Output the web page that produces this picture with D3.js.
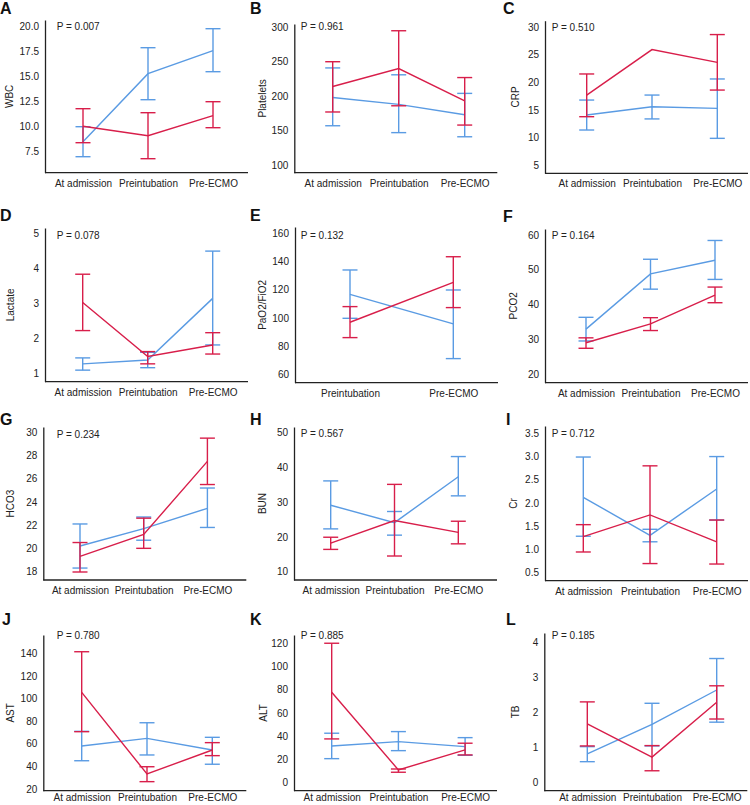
<!DOCTYPE html>
<html><head><meta charset="utf-8">
<script src="https://cdn.jsdelivr.net/npm/d3@7"></script>
<style>body{margin:0;background:#fff} svg{display:block} text{font-family:"Liberation Sans",Arial,sans-serif}</style>
</head><body><svg id="c" width="750" height="805"></svg>
<script>
// ---- data ----
const categories = ["At admission", "Preintubation", "Pre-ECMO"];
const categoriesPF = ["Preintubation", "Pre-ECMO"];
const letters = ["A","B","C","D","E","F","G","H","I","J","K","L"];
const variables = ["WBC","Platelets","CRP","Lactate","PaO2/FiO2","PCO2","HCO3","BUN","Cr","AST","ALT","TB"];
const pValues = ["0.007","0.961","0.510","0.078","0.132","0.164","0.234","0.567","0.712","0.780","0.885","0.185"];

// each point: [mean, lower, upper]
const blueWBC = [[8.5,7.0,10.0],[15.3,12.7,17.9],[17.6,15.5,19.8]];
const redWBC  = [[10.05,8.4,11.8],[9.1,6.8,11.4],[11.1,9.9,12.5]];
const bluePLT = [[198,157,241],[188,147,231],[173,141,204]];
const redPLT  = [[214,177,250],[240,186,295],[193,158,227]];
const blueCRP = [[14.1,11.4,16.8],[15.6,13.4,17.7],[15.3,9.9,20.6]];
const redCRP  = [[17.7,13.8,21.5],[25.9,null,null],[23.6,18.6,28.6]];
const blueLAC = [[1.27,1.09,1.44],[1.38,1.16,1.6],[3.14,1.81,4.49]];
const redLAC  = [[3.02,2.22,3.83],[1.48,1.27,1.62],[1.81,1.55,2.16]];
const bluePF  = [[116.7,99.7,134],[95.7,71.1,119.8]];
const redPF   = [[96.9,86,108],[125.2,107.3,143.4]];
const bluePCO2 = [[32.9,29.5,36.3],[48.8,44.4,53],[52.7,47.2,58.4]];
const redPCO2  = [[29,27.4,30.4],[34.4,32.5,36.2],[42.7,40.5,45]];
const blueHCO3 = [[20.2,18.3,22.1],[21.7,20.7,22.7],[23.45,21.8,25.2]];
const redHCO3  = [[19.3,17.96,20.5],[21.2,20.0,22.6],[27.5,25.5,29.5]];
const blueBUN = [[29.1,22.3,36.1],[24.1,20.5,27.3],[37.3,31.8,43.1]];
const redBUN  = [[18.2,16.4,19.9],[24.7,14.5,35.1],[21.3,18,24.5]];
const blueCr  = [[2.12,1.28,2.99],[1.3,1.16,1.43],[2.3,1.63,3.0]];
const redCr   = [[1.27,0.94,1.53],[1.74,0.69,2.8],[1.16,0.68,1.63]];
const blueAST = [[58,45,71],[64.8,50.1,78.6],[54.5,41.9,65.7]];
const redAST  = [[105.5,70.7,141.4],[33.3,26.5,39.7],[54.5,49.5,61]];
const blueALT = [[31.5,20.6,42.5],[35.3,27.5,43.9],[31,23.5,38.7]];
const redALT  = [[77.8,37.6,120],[10.9,8.9,11.7],[28.1,23.8,33.9]];
const blueTB  = [[0.82,0.6,1.03],[1.67,1.05,2.27],[2.65,1.73,3.55]];
const redTB   = [[1.68,1.05,2.31],[0.73,0.34,1.06],[2.3,1.82,2.77]];

const ticksWBC = [7.5,10,12.5,15,17.5,20];
const ticksPLT = [100,150,200,250,300];
const ticksCRP = [5,10,15,20,25,30];
const ticksLAC = [1,2,3,4,5];
const ticksPF  = [60,80,100,120,140,160];
const ticksPCO2 = [20,30,40,50,60];
const ticksHCO3 = [18,20,22,24,26,28,30];
const ticksBUN = [10,20,30,40,50];
const ticksCr  = [0.5,1,1.5,2,2.5,3,3.5];
const ticksAST = [20,40,60,80,100,120,140];
const ticksALT = [0,20,40,60,80,100,120];
const ticksTB  = [0,1,2,3,4];

const panelCats = [categories,categories,categories,categories,categoriesPF,categories,categories,categories,categories,categories,categories,categories];
const blueSeries = [blueWBC,bluePLT,blueCRP,blueLAC,bluePF,bluePCO2,blueHCO3,blueBUN,blueCr,blueAST,blueALT,blueTB];
const redSeries  = [redWBC,redPLT,redCRP,redLAC,redPF,redPCO2,redHCO3,redBUN,redCr,redAST,redALT,redTB];
const panelTicks = [ticksWBC,ticksPLT,ticksCRP,ticksLAC,ticksPF,ticksPCO2,ticksHCO3,ticksBUN,ticksCr,ticksAST,ticksALT,ticksTB];
const tickFormats = [".1f","d","d","d","d","d","d","d",".1f","d","d","d"];

// ---- layout (pixel positions) ----
const layout = [
 {lx:0,   ly:14,   ax:45,    base:172.7, top:20,  dom:[5.4,20.67],   x0:83,    step:65,   tx:9.5,   px:56.7,  py:26.7, xp:7},
 {lx:250, ly:14,   ax:294.3, base:172.7, top:24,  dom:[88.8,304.8],  x0:332.7, step:66,   tx:262.7, px:300.7, py:26.7, xp:7},
 {lx:503, ly:14,   ax:545,   base:173.3, top:20.7,dom:[3.6,31.1],    x0:586.7, step:65.3, tx:515,   px:551.7, py:27,   xp:7},
 {lx:0,   ly:221,  ax:45,    base:381.7, top:228, dom:[0.76,5.15],   x0:82.7,  step:65,   tx:10,    px:56.7,  py:235,  xp:7},
 {lx:250, ly:221,  ax:295,   base:382.7, top:227, dom:[54,164.5],    x0:350,   step:103.3,tx:262.7, px:300.7, py:235,  xp:7},
 {lx:503, ly:222,  ax:545,   base:382.7, top:229, dom:[17.5,61.7],   x0:586,   step:64.5, tx:513.3, px:551.7, py:235,  xp:7},
 {lx:0,   ly:425,  ax:43.3,  base:580,   top:427, dom:[17.27,30.46], x0:80,    step:63.7, tx:10,    px:56.7,  py:434.3,xp:7},
 {lx:250, ly:425,  ax:294,   base:580,   top:427, dom:[7.6,51.6],    x0:330.7, step:63.8, tx:262.7, px:300.7, py:433.3,xp:7},
 {lx:506, ly:425,  ax:545,   base:580.7, top:426, dom:[0.32,3.66],   x0:583.3, step:66.7, tx:513.3, px:551.7, py:433.3,xp:7},
 {lx:2,   ly:625,  ax:43.3,  base:790.7, top:635, dom:[18.5,156.2],  x0:81.7,  step:65.3, tx:10,    px:56.7,  py:635.7,xp:3.5},
 {lx:250, ly:625,  ax:294,   base:790.7, top:635, dom:[-7,127.1],    x0:331.7, step:66.7, tx:263.3, px:300.7, py:635,  xp:3.5},
 {lx:506, ly:625,  ax:544.3, base:790.7, top:633, dom:[-0.23,4.28],  x0:587.3, step:64.7, tx:515,   px:551.7, py:635,  xp:3.5}
];

const BLUE = "#5a9be3", RED = "#d81e4a", AXIS = "#222";
const svg = d3.select("#c");

layout.forEach((L, i) => {
  const g = svg.append("g");
  const cats = panelCats[i];
  const x = d3.scalePoint().domain(cats).range([L.x0, L.x0 + L.step * (cats.length - 1)]);
  const y = d3.scaleLinear().domain(L.dom).range([L.base, L.top]);

  // letter
  g.append("text").attr("x", L.lx).attr("y", L.ly).attr("font-size", 16).attr("font-weight", "bold").attr("fill", "#111").text(letters[i]);

  // y axis
  const yAxis = d3.axisLeft(y).tickValues(panelTicks[i]).tickSize(0).tickSizeOuter(0).tickPadding(6).tickFormat(d3.format(tickFormats[i]));
  const ya = g.append("g").attr("transform", `translate(${L.ax},0)`).call(yAxis);
  ya.select(".domain").attr("stroke", AXIS).attr("stroke-width", 1.3);
  ya.selectAll("text").attr("font-size", 10).attr("fill", "#222").style("font-family", '"Liberation Sans",Arial,sans-serif');

  // x axis line and labels
  g.append("line").attr("x1", L.ax).attr("x2", L.ax + 203).attr("y1", L.base).attr("y2", L.base).attr("stroke", AXIS).attr("stroke-width", 1.3);
  const xAxis = d3.axisBottom(x).tickSize(0).tickPadding(L.xp);
  const xa = g.append("g").attr("transform", `translate(0,${L.base})`).call(xAxis);
  xa.select(".domain").remove();
  xa.selectAll("text").attr("font-size", 10).attr("fill", "#222").style("font-family", '"Liberation Sans",Arial,sans-serif');

  // y title
  g.append("text").attr("transform", `translate(${L.tx},${(L.base + L.top) / 2}) rotate(-90)`)
    .attr("text-anchor", "middle").attr("dy", "0.35em").attr("font-size", 10).attr("fill", "#222").text(variables[i]);

  // p value
  g.append("text").attr("x", L.px).attr("y", L.py).attr("dy", "0.35em").attr("font-size", 10).attr("fill", "#222").text("P = " + pValues[i]);

  // series
  [[blueSeries[i], BLUE], [redSeries[i], RED]].forEach(([data, color]) => {
    const line = d3.line().x((d, k) => x(cats[k])).y(d => y(d[0]));
    g.append("path").datum(data).attr("d", line).attr("fill", "none").attr("stroke", color).attr("stroke-width", 1.4);
    const eb = g.append("g").attr("stroke", color).attr("stroke-width", 1.4);
    data.forEach((d, k) => {
      if (d[1] == null) return;
      const cx = x(cats[k]);
      eb.append("line").attr("x1", cx).attr("x2", cx).attr("y1", y(d[1])).attr("y2", y(d[2]));
      eb.append("line").attr("x1", cx - 7.5).attr("x2", cx + 7.5).attr("y1", y(d[1])).attr("y2", y(d[1]));
      eb.append("line").attr("x1", cx - 7.5).attr("x2", cx + 7.5).attr("y1", y(d[2])).attr("y2", y(d[2]));
    });
  });
});
</script></body></html>
